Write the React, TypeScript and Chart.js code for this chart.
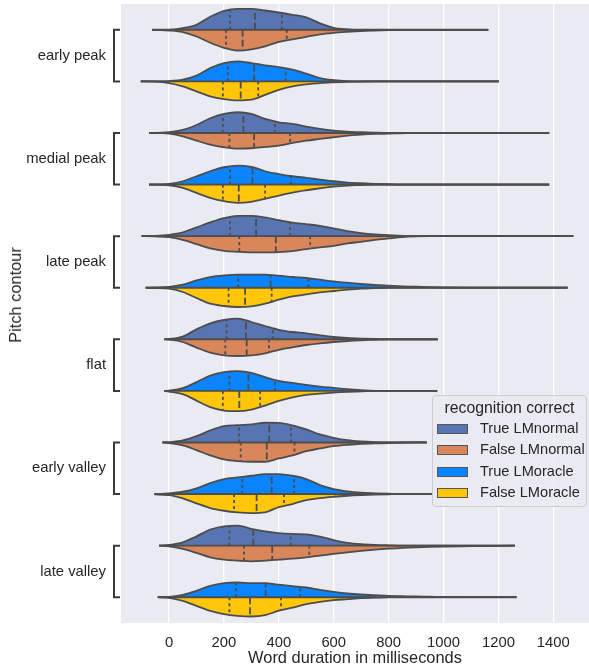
import React, { useEffect, useRef } from "react";
import { Chart, registerables } from "chart.js";

Chart.register(...registerables);

const CONTOURS = ["early peak", "medial peak", "late peak", "flat", "early valley", "late valley"];
const LEGEND_TITLE = "recognition correct";
const SERIES_LABELS = ["True LMnormal", "False LMnormal", "True LMoracle", "False LMoracle"];
const SERIES_COLORS = ["#5875B3", "#D8865A", "#0A84FF", "#FFC60A"];
const X_TICKS = [0, 200, 400, 600, 800, 1000, 1200, 1400];
const X_TITLE = "Word duration in milliseconds";
const Y_TITLE = "Pitch contour";

// duration grid (ms) at which the violin densities are read
const GRID_MS = [-50, 0, 50, 100, 150, 200, 250, 300, 350, 400, 450, 500, 550, 600, 650, 700, 750, 800, 850, 900, 950, 1000, 1100, 1200];

// kernel density (relative units), one row per pitch contour
const TRUE_LMNORMAL = [
  [0, 0, 1.7, 5, 13, 19, 21, 21, 19.3, 17.3, 15, 12.5, 6.5, 2, 0.5, 0, 0, 0, 0, 0, 0, 0, 0, 0],
  [0, 0.7, 3, 8, 14.7, 19, 20.7, 19, 14, 10.7, 9, 6.3, 4, 2.3, 1.3, 0.7, 0.3, 0, 0, 0, 0, 0, 0, 0],
  [0.3, 1.3, 3.7, 8.7, 13.7, 18, 20.3, 20.3, 18.7, 16, 13.5, 12, 10.3, 7.7, 5, 3, 1.7, 1, 0.3, 0, 0, 0, 0, 0],
  [0, 0.3, 2.7, 10, 16, 19.3, 20.7, 17.3, 13.3, 9.5, 7.3, 6, 4, 2.3, 1.3, 0.7, 0.3, 0, 0, 0, 0, 0, 0, 0],
  [0, 0.3, 2, 6.3, 12, 16.3, 17.3, 18, 19.7, 19.5, 17, 13, 8, 4.7, 2.3, 1, 0.3, 0, 0, 0, 0, 0, 0, 0],
  [0, 0.7, 3.3, 9.3, 16, 19.3, 20, 16.7, 14.3, 12.5, 11.7, 11.3, 9, 5.5, 2.8, 1.4, 0.7, 0.3, 0, 0, 0, 0, 0, 0],
];
const FALSE_LMNORMAL = [
  [0, 0.7, 2.3, 6.7, 13, 18, 20.7, 19.5, 16.5, 12, 9.5, 7, 4.5, 3, 2, 1.2, 0.7, 0.3, 0, 0, 0, 0, 0, 0],
  [0, 0.7, 3.3, 7.7, 11.7, 14.3, 15.7, 15.3, 14, 12.7, 10, 7.7, 6, 4.3, 2.7, 1.7, 1, 0.7, 0.3, 0, 0, 0, 0, 0],
  [0.3, 1, 3.7, 8, 12.3, 14.7, 15.7, 16.3, 16.3, 16, 15, 13, 11.3, 9.7, 7.3, 5.7, 3.7, 2.3, 1, 0.3, 0, 0, 0, 0],
  [0, 0.3, 2.7, 8.3, 13.3, 16, 16.7, 16, 14, 10.5, 8, 5.7, 4, 2.7, 1.7, 1, 0.5, 0, 0, 0, 0, 0, 0, 0],
  [0, 0.7, 3, 7.7, 13, 17, 18.7, 19.3, 19.3, 16, 13, 8.7, 6, 3.7, 2.3, 1.3, 1, 0.7, 0.3, 0, 0, 0, 0, 0],
  [0, 0.7, 3.3, 7.3, 11.7, 14, 15, 15.7, 15, 14, 13, 11.7, 10, 8.3, 6.7, 5.3, 4, 3, 2.3, 1.7, 1.3, 1, 0.6, 0.2],
];
const TRUE_LMORACLE = [
  [0, 0.3, 1.7, 5.7, 13.3, 18.3, 20, 18.3, 16, 14.3, 11.7, 7.7, 3.3, 1.3, 0.3, 0, 0, 0, 0, 0, 0, 0, 0, 0],
  [0, 0.7, 3.3, 8.3, 13.3, 17.3, 19, 17.7, 13.3, 10.5, 8.3, 6.7, 5, 3.3, 2, 1.3, 0.7, 0.3, 0, 0, 0, 0, 0, 0],
  [0.2, 0.7, 3, 7.3, 10.7, 12.3, 13, 13, 13, 12, 10.7, 9.7, 8, 6.3, 5, 3.7, 2.7, 2, 1.3, 1, 0.5, 0.2, 0, 0],
  [0, 0.3, 2.7, 8.7, 15.3, 18.7, 19.7, 18, 13.7, 10, 8, 6, 4.3, 3, 1.7, 0.7, 0, 0, 0, 0, 0, 0, 0, 0],
  [0, 0.7, 2.3, 5.7, 11, 15, 16.7, 18.3, 20, 20, 18.3, 15, 9, 5, 2.7, 1.3, 0.7, 0.3, 0, 0, 0, 0, 0, 0],
  [0, 0.3, 2.3, 6.3, 11.3, 14, 14.7, 14, 14, 12.5, 11, 9.7, 7.3, 5.3, 3.7, 2.7, 2, 1.3, 1, 0.7, 0.5, 0.3, 0.1, 0],
];
const FALSE_LMORACLE = [
  [0.3, 1.7, 5, 10, 15, 17.7, 19, 18.3, 13.5, 8.5, 5, 3, 1.7, 1, 0.5, 0.2, 0, 0, 0, 0, 0, 0, 0, 0],
  [0, 0.7, 3.3, 8.3, 13.3, 16.7, 18.3, 17.3, 14.3, 11, 8, 5.7, 3.7, 2, 1, 0.5, 0, 0, 0, 0, 0, 0, 0, 0],
  [0.3, 1, 4.3, 10.3, 16, 18.3, 19.3, 18.7, 16, 12, 8.7, 6.7, 4.7, 3.3, 2, 1, 0.5, 0, 0, 0, 0, 0, 0, 0],
  [0, 0.7, 3.3, 9.7, 16.3, 19.7, 20.3, 18.7, 14.7, 10, 6.5, 4, 2.7, 1.7, 1, 0.5, 0, 0, 0, 0, 0, 0, 0, 0],
  [0.3, 1, 4.3, 9.3, 14, 16.7, 18.3, 19, 18.3, 13, 10, 6, 4, 2.7, 1.7, 1, 0.5, 0.2, 0, 0, 0, 0, 0, 0],
  [0, 0.7, 3.7, 8.7, 13.7, 17, 18.7, 19.3, 18, 13.5, 10.5, 7, 4.7, 3, 2, 1, 0.5, 0, 0, 0, 0, 0, 0, 0],
];

// data range (ms) of each violin
const MIN_LMNORMAL = [-62, -73, -100, -17, -24, -36];
const MAX_LMNORMAL = [1163, 1385, 1473, 979, 939, 1260];
const MIN_LMORACLE = [-103, -73, -85, -17, -53, -41];
const MAX_LMORACLE = [1202, 1385, 1452, 977, 961, 1266];

// quartiles [q1, median, q3] (ms)
const QUART_TRUE_LMNORMAL = [[222, 313, 411], [196, 271, 386], [222, 317, 441], [210, 280, 378], [255, 365, 444], [220, 307, 443]];
const QUART_FALSE_LMNORMAL = [[208, 268, 429], [220, 310, 441], [256, 389, 514], [205, 283, 364], [261, 356, 457], [273, 376, 511]];
const QUART_TRUE_LMORACLE = [[214, 310, 425], [222, 304, 444], [252, 370, 508], [220, 289, 386], [267, 374, 455], [244, 352, 477]];
const QUART_FALSE_LMORACLE = [[196, 261, 325], [196, 254, 350], [217, 277, 374], [196, 256, 332], [237, 319, 419], [220, 295, 408]];

const EDGE = "#4D4D4D";
const TEXT = "#262626";
const FONT = "'Liberation Sans', Arial, sans-serif";
const DENS_SCALE = 1 / 51.6; // density units -> category units

function densityAt(dens: number[], v: number) {
  for (let i = 0; i < GRID_MS.length - 1; i++) {
    if (v >= GRID_MS[i] && v <= GRID_MS[i + 1]) {
      const t = (v - GRID_MS[i]) / (GRID_MS[i + 1] - GRID_MS[i]);
      return dens[i] + t * (dens[i + 1] - dens[i]);
    }
  }
  return 0;
}

function buildDatasets() {
  const ds: any[] = [];
  const models = [
    { t: TRUE_LMNORMAL, f: FALSE_LMNORMAL, qt: QUART_TRUE_LMNORMAL, qf: QUART_FALSE_LMNORMAL, mn: MIN_LMNORMAL, mx: MAX_LMNORMAL, ct: SERIES_COLORS[0], cf: SERIES_COLORS[1] },
    { t: TRUE_LMORACLE, f: FALSE_LMORACLE, qt: QUART_TRUE_LMORACLE, qf: QUART_FALSE_LMORACLE, mn: MIN_LMORACLE, mx: MAX_LMORACLE, ct: SERIES_COLORS[2], cf: SERIES_COLORS[3] },
  ];
  CONTOURS.forEach((_, ci) => {
    models.forEach((m, mi) => {
      const center = ci * 2 + mi;
      const mn = m.mn[ci];
      const mx = m.mx[ci];
      const halves = [
        { dens: m.t[ci], sign: -1, color: m.ct, q: m.qt[ci] },
        { dens: m.f[ci], sign: 1, color: m.cf, q: m.qf[ci] },
      ];
      halves.forEach((h) => {
        const pts: { x: number; y: number }[] = [{ x: mn, y: center }];
        GRID_MS.forEach((v, i) => {
          if (v > mn && v < mx) pts.push({ x: v, y: center + h.sign * h.dens[i] * DENS_SCALE });
        });
        pts.push({ x: mx, y: center });
        ds.push({
          data: pts,
          borderColor: EDGE,
          borderWidth: 1.8,
          backgroundColor: h.color,
          fill: { value: center },
          pointRadius: 0,
          cubicInterpolationMode: "monotone",
          order: 3,
        });
        h.q.forEach((qv, qi) => {
          ds.push({
            data: [
              { x: qv, y: center },
              { x: qv, y: center + h.sign * densityAt(h.dens, qv) * DENS_SCALE },
            ],
            borderColor: EDGE,
            borderWidth: 1.8,
            borderDash: qi === 1 ? [7, 3] : [3, 3],
            pointRadius: 0,
            fill: false,
            order: 2,
          });
        });
      });
      ds.push({
        data: [
          { x: mn, y: center },
          { x: mx, y: center },
        ],
        borderColor: EDGE,
        borderWidth: 1.9,
        pointRadius: 0,
        fill: false,
        order: 1,
      });
    });
  });
  return ds;
}

const plotDecor = {
  id: "plotDecor",
  beforeDraw(chart: any) {
    const { ctx, chartArea: a } = chart;
    ctx.save();
    ctx.fillStyle = "#EAEAF2";
    ctx.fillRect(a.left, a.top, a.right - a.left, a.bottom - a.top);
    ctx.restore();
  },
  afterDraw(chart: any) {
    const { ctx, chartArea: a } = chart;
    const ys = chart.scales.y;
    ctx.save();
    ctx.strokeStyle = "#3a3a3a";
    ctx.lineWidth = 2;
    CONTOURS.forEach((_, ci) => {
      const y0 = ys.getPixelForValue(ci * 2);
      const y1 = ys.getPixelForValue(ci * 2 + 1);
      const xv = a.left - 7;
      const xe = a.left - 1;
      ctx.beginPath();
      ctx.moveTo(xe, y0);
      ctx.lineTo(xv, y0);
      ctx.lineTo(xv, y1);
      ctx.lineTo(xe, y1);
      ctx.stroke();
    });
    ctx.restore();
  },
};

export default function App() {
  const ref = useRef<HTMLCanvasElement | null>(null);
  useEffect(() => {
    if (!ref.current) return;
    const chart = new Chart(ref.current, {
      type: "line",
      data: { datasets: buildDatasets() },
      options: {
        animation: false,
        responsive: false,
        devicePixelRatio: 1,
        layout: { padding: { top: 4, right: 0, left: 0, bottom: 0 } },
        plugins: { legend: { display: false }, tooltip: { enabled: false } },
        scales: {
          x: {
            type: "linear",
            min: -175,
            max: 1530,
            afterBuildTicks: (s: any) => {
              s.ticks = X_TICKS.map((v) => ({ value: v }));
            },
            afterFit: (s: any) => {
              s.height = 46;
              s.paddingLeft = 0;
              s.paddingRight = 0;
            },
            ticks: {
              callback: (v: any) => String(v),
              font: { family: FONT, size: 14.8 },
              color: TEXT,
              padding: 11,
              maxRotation: 0,
            },
            grid: { color: "#FFFFFF", lineWidth: 1.3, drawTicks: false, tickLength: 0 },
            border: { display: false },
            title: { display: true, text: X_TITLE, font: { family: FONT, size: 16.4 }, color: TEXT, padding: { top: 0, bottom: 1 } },
          },
          y: {
            type: "linear",
            reverse: true,
            min: -0.5,
            max: 11.5,
            afterBuildTicks: (s: any) => {
              s.ticks = CONTOURS.map((_, i) => ({ value: i * 2 + 0.5 }));
            },
            afterFit: (s: any) => {
              s.width = 121;
              s.paddingTop = 0;
              s.paddingBottom = 0;
            },
            ticks: {
              callback: (_v: any, i: number) => CONTOURS[i],
              font: { family: FONT, size: 14.8 },
              color: TEXT,
              padding: 15,
            },
            grid: { display: false, drawTicks: false, tickLength: 0 },
            border: { display: false },
            title: { display: false },
          },
        },
      },
      plugins: [plotDecor],
    });
    return () => chart.destroy();
  }, []);

  return (
    <div style={{ position: "absolute", left: 0, top: 0, width: 589, height: 669, overflow: "hidden" }}>
      <canvas ref={ref} width={589} height={669} style={{ display: "block", width: 589, height: 669 }} />
      <div
        style={{
          position: "absolute",
          left: 15,
          top: 295,
          transform: "translate(-50%, -50%) rotate(-90deg)",
          fontFamily: FONT,
          fontSize: 16.4,
          color: TEXT,
          whiteSpace: "nowrap",
          lineHeight: "20px",
        }}
      >
        {Y_TITLE}
      </div>
      <div
        style={{
          position: "absolute",
          left: 432,
          top: 395,
          width: 155,
          height: 112,
          background: "rgba(234,234,242,0.85)",
          border: "1px solid #CCCCCC",
          borderRadius: 4,
          fontFamily: FONT,
          color: TEXT,
          boxSizing: "border-box",
        }}
      >
        <div style={{ position: "absolute", left: 0, width: 153, top: 2, textAlign: "center", fontSize: 15.8, lineHeight: "19px", whiteSpace: "nowrap" }}>
          {LEGEND_TITLE}
        </div>
        {SERIES_LABELS.map((lab, i) => (
          <div key={lab} style={{ position: "absolute", left: 4, top: 23 + i * 21.3, height: 18, whiteSpace: "nowrap", fontSize: 14.6 }}>
            <div
              style={{
                position: "absolute",
                left: 0,
                top: 5,
                width: 31,
                height: 10,
                background: SERIES_COLORS[i],
                border: "1px solid #555555",
                boxSizing: "border-box",
              }}
            />
            <div style={{ position: "absolute", left: 43, top: 0, lineHeight: "19px" }}>{lab}</div>
          </div>
        ))}
      </div>
    </div>
  );
}
